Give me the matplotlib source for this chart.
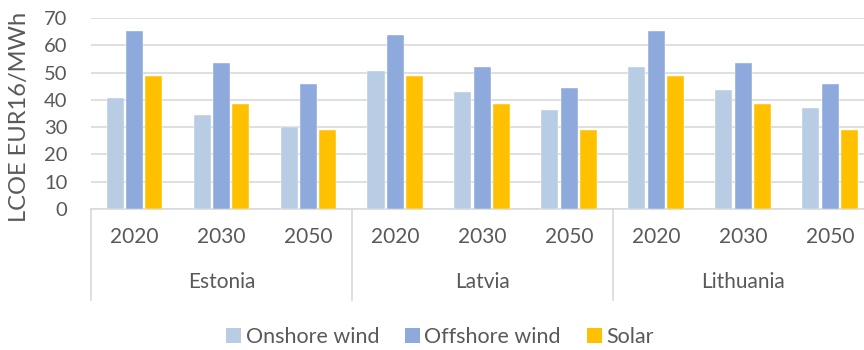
import matplotlib
matplotlib.use("Agg")
import matplotlib.pyplot as plt
import matplotlib.transforms as mtransforms
from matplotlib.patches import Patch
import numpy as np

countries = ["Estonia", "Latvia", "Lithuania"]
years = ["2020", "2030", "2050"]
series_names = ["Onshore wind", "Offshore wind", "Solar"]
onshore = [40.8, 34.6, 30.0, 50.7, 42.7, 36.3, 52.0, 43.6, 37.0]
offshore = [65.2, 53.4, 45.7, 63.7, 52.2, 44.5, 65.2, 53.4, 45.7]
solar = [48.8, 38.4, 28.8, 48.8, 38.4, 28.8, 48.8, 38.4, 28.8]
colors = ["#B8CCE4", "#8EA9DB", "#FFC000"]

plt.rcParams['font.family'] = ['Lato', 'DejaVu Sans']
txt = "#595959"
grid_c = "#D9D9D9"

fig = plt.figure(figsize=(8.64, 3.5), dpi=100)
ax = fig.add_axes([91/864, 1-209/350, 782.5/864, (209-18)/350])

n = len(onshore)
x = np.arange(n)
w = 0.196
off = 0.222
for i, (vals, c, name) in enumerate(zip([onshore, offshore, solar], colors, series_names)):
    ax.bar(x + (i-1)*off, vals, width=w, color=c, label=name, zorder=3,
           edgecolor="white", linewidth=0.3)

ax.set_xlim(-0.5, n-0.5)
ax.set_ylim(0, 70)
ax.set_yticks(range(0, 71, 10))
ax.yaxis.grid(True, color=grid_c, linewidth=1.2, zorder=0)
ax.set_axisbelow(True)
for s in ["top", "right", "left"]:
    ax.spines[s].set_visible(False)
ax.spines["bottom"].set_color(grid_c)
ax.spines["bottom"].set_linewidth(1.2)
ax.tick_params(axis="y", length=0, pad=17, labelsize=14.5, labelcolor=txt)
ax.set_xticks(x)
ax.set_xticklabels(years * 3)
ax.tick_params(axis="x", length=0, pad=13, labelsize=15, labelcolor=txt)
ax.set_ylabel("LCOE EUR16/MWh", fontsize=17, color=txt)
ax.yaxis.set_label_coords(-0.078, 0.48)

trans = mtransforms.blended_transform_factory(ax.transData, ax.transAxes)
sep_bottom = -(300-209)/(209-18)
for b in [-0.5, 2.5, 5.5, 8.5]:
    ax.plot([b, b], [0, sep_bottom], transform=trans, color=grid_c, lw=1.2, clip_on=False)
country_y = -(282-209)/(209-18)
for j, cname in enumerate(countries):
    ax.text(3*j+1, country_y, cname, transform=trans, ha="center", va="center",
            fontsize=15, color=txt)

handles = [Patch(facecolor=c, edgecolor="none") for c in colors]
fig.legend(handles, series_names, loc="center", bbox_to_anchor=(0.509, 1-337/350),
           ncol=3, frameon=False, fontsize=15.5, labelcolor=txt,
           handlelength=0.7, handleheight=0.7, handletextpad=0.2, columnspacing=1.2)

fig.savefig("out.png", dpi=100)
